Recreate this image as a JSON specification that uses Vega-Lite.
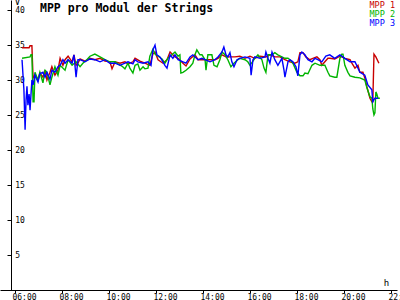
{
  "$schema": "https://vega.github.io/schema/vega-lite/v6.json",
  "width": 397,
  "height": 290,
  "autosize": {"type": "none"},
  "padding": {"left": 0, "top": 0, "right": 3, "bottom": 10},
  "background": "white",
  "config": {"view": {"stroke": null}, "font": "DejaVu Sans Mono"},
  "title": {"text": "MPP pro Modul der Strings", "frame": "group", "anchor": "start", "orient": "top", "offset": -25.5, "baseline": "alphabetic", "dx": 40, "font": "DejaVu Sans Mono", "fontSize": 11.5, "fontWeight": "bold", "color": "black"},
  "datasets": {
    "mpp": [
      {"s":"MPP 1","t":6.30,"v":34.6},{"s":"MPP 1","t":6.60,"v":34.6},{"s":"MPP 1","t":6.64,"v":34.9},{"s":"MPP 1","t":6.72,"v":34.9},{"s":"MPP 1","t":6.77,"v":30.3},{"s":"MPP 1","t":6.85,"v":30.7},{"s":"MPP 1","t":6.98,"v":30.0},{"s":"MPP 1","t":7.06,"v":31.0},{"s":"MPP 1","t":7.19,"v":30.4},{"s":"MPP 1","t":7.28,"v":31.4},{"s":"MPP 1","t":7.36,"v":30.0},{"s":"MPP 1","t":7.49,"v":31.1},{"s":"MPP 1","t":7.57,"v":31.9},{"s":"MPP 1","t":7.70,"v":30.7},{"s":"MPP 1","t":7.83,"v":31.4},{"s":"MPP 1","t":7.92,"v":33.1},{"s":"MPP 1","t":8.04,"v":32.1},{"s":"MPP 1","t":8.13,"v":32.9},{"s":"MPP 1","t":8.26,"v":33.4},{"s":"MPP 1","t":8.43,"v":32.6},{"s":"MPP 1","t":8.51,"v":33.6},{"s":"MPP 1","t":8.60,"v":32.1},{"s":"MPP 1","t":8.68,"v":32.4},{"s":"MPP 1","t":8.77,"v":33.0},{"s":"MPP 1","t":8.98,"v":32.7},{"s":"MPP 1","t":9.19,"v":33.1},{"s":"MPP 1","t":9.40,"v":32.9},{"s":"MPP 1","t":9.62,"v":33.1},{"s":"MPP 1","t":9.83,"v":32.7},{"s":"MPP 1","t":10.04,"v":32.6},{"s":"MPP 1","t":10.13,"v":31.6},{"s":"MPP 1","t":10.26,"v":32.6},{"s":"MPP 1","t":10.47,"v":32.4},{"s":"MPP 1","t":10.68,"v":32.6},{"s":"MPP 1","t":10.81,"v":32.3},{"s":"MPP 1","t":11.02,"v":32.6},{"s":"MPP 1","t":11.11,"v":33.1},{"s":"MPP 1","t":11.32,"v":32.7},{"s":"MPP 1","t":11.53,"v":32.4},{"s":"MPP 1","t":11.74,"v":32.1},{"s":"MPP 1","t":11.87,"v":33.7},{"s":"MPP 1","t":11.96,"v":34.0},{"s":"MPP 1","t":12.09,"v":32.9},{"s":"MPP 1","t":12.30,"v":32.4},{"s":"MPP 1","t":12.47,"v":32.9},{"s":"MPP 1","t":12.60,"v":34.0},{"s":"MPP 1","t":12.81,"v":33.3},{"s":"MPP 1","t":12.94,"v":33.1},{"s":"MPP 1","t":13.15,"v":32.4},{"s":"MPP 1","t":13.28,"v":32.0},{"s":"MPP 1","t":13.45,"v":33.0},{"s":"MPP 1","t":13.66,"v":33.6},{"s":"MPP 1","t":13.79,"v":32.9},{"s":"MPP 1","t":13.96,"v":32.9},{"s":"MPP 1","t":14.21,"v":32.9},{"s":"MPP 1","t":14.51,"v":32.9},{"s":"MPP 1","t":14.64,"v":33.1},{"s":"MPP 1","t":14.81,"v":33.6},{"s":"MPP 1","t":14.98,"v":33.3},{"s":"MPP 1","t":15.15,"v":33.3},{"s":"MPP 1","t":15.36,"v":33.3},{"s":"MPP 1","t":15.57,"v":33.4},{"s":"MPP 1","t":15.79,"v":33.1},{"s":"MPP 1","t":16.00,"v":33.4},{"s":"MPP 1","t":16.21,"v":33.1},{"s":"MPP 1","t":16.43,"v":33.4},{"s":"MPP 1","t":16.68,"v":33.3},{"s":"MPP 1","t":16.85,"v":33.6},{"s":"MPP 1","t":17.06,"v":33.3},{"s":"MPP 1","t":17.28,"v":33.3},{"s":"MPP 1","t":17.49,"v":32.9},{"s":"MPP 1","t":17.70,"v":32.6},{"s":"MPP 1","t":17.91,"v":32.4},{"s":"MPP 1","t":18.04,"v":32.6},{"s":"MPP 1","t":18.13,"v":33.9},{"s":"MPP 1","t":18.26,"v":33.9},{"s":"MPP 1","t":18.38,"v":33.3},{"s":"MPP 1","t":18.55,"v":32.9},{"s":"MPP 1","t":18.68,"v":33.1},{"s":"MPP 1","t":18.85,"v":33.3},{"s":"MPP 1","t":18.98,"v":32.9},{"s":"MPP 1","t":19.06,"v":32.1},{"s":"MPP 1","t":19.19,"v":32.6},{"s":"MPP 1","t":19.32,"v":33.1},{"s":"MPP 1","t":19.40,"v":33.1},{"s":"MPP 1","t":19.61,"v":33.0},{"s":"MPP 1","t":19.83,"v":33.4},{"s":"MPP 1","t":20.04,"v":33.1},{"s":"MPP 1","t":20.26,"v":32.9},{"s":"MPP 1","t":20.34,"v":32.4},{"s":"MPP 1","t":20.47,"v":31.7},{"s":"MPP 1","t":20.60,"v":32.1},{"s":"MPP 1","t":20.68,"v":31.1},{"s":"MPP 1","t":20.81,"v":31.1},{"s":"MPP 1","t":20.89,"v":30.3},{"s":"MPP 1","t":20.98,"v":29.0},{"s":"MPP 1","t":21.11,"v":27.4},{"s":"MPP 1","t":21.19,"v":26.9},{"s":"MPP 1","t":21.23,"v":26.9},{"s":"MPP 1","t":21.28,"v":33.7},{"s":"MPP 1","t":21.36,"v":33.3},{"s":"MPP 1","t":21.49,"v":32.4},

      {"s":"MPP 2","t":6.30,"v":33.1},{"s":"MPP 2","t":6.64,"v":33.3},{"s":"MPP 2","t":6.68,"v":33.6},{"s":"MPP 2","t":6.72,"v":33.6},{"s":"MPP 2","t":6.77,"v":26.9},{"s":"MPP 2","t":6.81,"v":26.9},{"s":"MPP 2","t":6.85,"v":31.1},{"s":"MPP 2","t":6.98,"v":30.0},{"s":"MPP 2","t":7.06,"v":31.1},{"s":"MPP 2","t":7.19,"v":29.6},{"s":"MPP 2","t":7.28,"v":31.4},{"s":"MPP 2","t":7.36,"v":31.1},{"s":"MPP 2","t":7.49,"v":29.3},{"s":"MPP 2","t":7.57,"v":30.4},{"s":"MPP 2","t":7.70,"v":31.9},{"s":"MPP 2","t":7.83,"v":30.7},{"s":"MPP 2","t":7.92,"v":32.1},{"s":"MPP 2","t":8.13,"v":31.4},{"s":"MPP 2","t":8.26,"v":32.9},{"s":"MPP 2","t":8.43,"v":32.1},{"s":"MPP 2","t":8.60,"v":32.6},{"s":"MPP 2","t":8.77,"v":31.9},{"s":"MPP 2","t":8.89,"v":32.4},{"s":"MPP 2","t":9.06,"v":32.9},{"s":"MPP 2","t":9.19,"v":33.4},{"s":"MPP 2","t":9.40,"v":33.7},{"s":"MPP 2","t":9.62,"v":33.3},{"s":"MPP 2","t":9.83,"v":32.9},{"s":"MPP 2","t":10.04,"v":32.6},{"s":"MPP 2","t":10.26,"v":32.6},{"s":"MPP 2","t":10.38,"v":32.3},{"s":"MPP 2","t":10.55,"v":32.0},{"s":"MPP 2","t":10.68,"v":31.6},{"s":"MPP 2","t":10.81,"v":32.4},{"s":"MPP 2","t":10.89,"v":31.7},{"s":"MPP 2","t":11.02,"v":31.0},{"s":"MPP 2","t":11.11,"v":32.1},{"s":"MPP 2","t":11.23,"v":32.3},{"s":"MPP 2","t":11.32,"v":31.4},{"s":"MPP 2","t":11.45,"v":31.9},{"s":"MPP 2","t":11.53,"v":31.6},{"s":"MPP 2","t":11.66,"v":31.7},{"s":"MPP 2","t":11.74,"v":33.4},{"s":"MPP 2","t":11.87,"v":34.4},{"s":"MPP 2","t":11.96,"v":33.7},{"s":"MPP 2","t":12.09,"v":33.4},{"s":"MPP 2","t":12.26,"v":33.0},{"s":"MPP 2","t":12.38,"v":32.4},{"s":"MPP 2","t":12.51,"v":33.1},{"s":"MPP 2","t":12.68,"v":33.6},{"s":"MPP 2","t":12.81,"v":34.0},{"s":"MPP 2","t":12.94,"v":33.4},{"s":"MPP 2","t":13.02,"v":33.6},{"s":"MPP 2","t":13.06,"v":31.0},{"s":"MPP 2","t":13.15,"v":31.1},{"s":"MPP 2","t":13.28,"v":31.4},{"s":"MPP 2","t":13.45,"v":31.9},{"s":"MPP 2","t":13.57,"v":32.4},{"s":"MPP 2","t":13.66,"v":33.6},{"s":"MPP 2","t":13.74,"v":34.3},{"s":"MPP 2","t":13.87,"v":33.6},{"s":"MPP 2","t":13.96,"v":33.6},{"s":"MPP 2","t":14.09,"v":32.9},{"s":"MPP 2","t":14.13,"v":31.4},{"s":"MPP 2","t":14.21,"v":33.6},{"s":"MPP 2","t":14.38,"v":33.6},{"s":"MPP 2","t":14.47,"v":32.1},{"s":"MPP 2","t":14.60,"v":31.9},{"s":"MPP 2","t":14.72,"v":32.9},{"s":"MPP 2","t":14.81,"v":34.0},{"s":"MPP 2","t":14.94,"v":33.6},{"s":"MPP 2","t":15.06,"v":32.9},{"s":"MPP 2","t":15.19,"v":31.9},{"s":"MPP 2","t":15.32,"v":32.4},{"s":"MPP 2","t":15.49,"v":32.9},{"s":"MPP 2","t":15.57,"v":33.1},{"s":"MPP 2","t":15.79,"v":32.9},{"s":"MPP 2","t":15.91,"v":32.6},{"s":"MPP 2","t":16.00,"v":32.1},{"s":"MPP 2","t":16.21,"v":33.1},{"s":"MPP 2","t":16.34,"v":33.6},{"s":"MPP 2","t":16.51,"v":32.9},{"s":"MPP 2","t":16.60,"v":31.7},{"s":"MPP 2","t":16.68,"v":31.1},{"s":"MPP 2","t":16.77,"v":33.6},{"s":"MPP 2","t":16.94,"v":33.6},{"s":"MPP 2","t":17.06,"v":33.9},{"s":"MPP 2","t":17.19,"v":33.6},{"s":"MPP 2","t":17.36,"v":33.3},{"s":"MPP 2","t":17.49,"v":33.1},{"s":"MPP 2","t":17.62,"v":33.1},{"s":"MPP 2","t":17.70,"v":32.9},{"s":"MPP 2","t":17.83,"v":32.4},{"s":"MPP 2","t":18.00,"v":31.1},{"s":"MPP 2","t":18.13,"v":30.6},{"s":"MPP 2","t":18.26,"v":30.6},{"s":"MPP 2","t":18.34,"v":31.0},{"s":"MPP 2","t":18.47,"v":30.9},{"s":"MPP 2","t":18.64,"v":32.1},{"s":"MPP 2","t":18.77,"v":32.4},{"s":"MPP 2","t":18.98,"v":32.1},{"s":"MPP 2","t":19.19,"v":32.1},{"s":"MPP 2","t":19.32,"v":31.1},{"s":"MPP 2","t":19.40,"v":30.6},{"s":"MPP 2","t":19.61,"v":30.4},{"s":"MPP 2","t":19.70,"v":30.4},{"s":"MPP 2","t":19.83,"v":33.1},{"s":"MPP 2","t":19.91,"v":33.7},{"s":"MPP 2","t":19.96,"v":33.7},{"s":"MPP 2","t":20.04,"v":32.1},{"s":"MPP 2","t":20.17,"v":31.1},{"s":"MPP 2","t":20.26,"v":30.6},{"s":"MPP 2","t":20.47,"v":30.4},{"s":"MPP 2","t":20.68,"v":30.3},{"s":"MPP 2","t":20.89,"v":30.0},{"s":"MPP 2","t":20.98,"v":28.9},{"s":"MPP 2","t":21.11,"v":27.6},{"s":"MPP 2","t":21.19,"v":27.4},{"s":"MPP 2","t":21.23,"v":25.9},{"s":"MPP 2","t":21.28,"v":25.0},{"s":"MPP 2","t":21.32,"v":25.3},{"s":"MPP 2","t":21.36,"v":28.3},{"s":"MPP 2","t":21.40,"v":28.0},{"s":"MPP 2","t":21.45,"v":27.4},{"s":"MPP 2","t":21.53,"v":27.4},

      {"s":"MPP 3","t":6.30,"v":32.9},{"s":"MPP 3","t":6.38,"v":28.6},{"s":"MPP 3","t":6.43,"v":22.9},{"s":"MPP 3","t":6.47,"v":27.1},{"s":"MPP 3","t":6.51,"v":29.1},{"s":"MPP 3","t":6.55,"v":26.4},{"s":"MPP 3","t":6.60,"v":28.0},{"s":"MPP 3","t":6.64,"v":25.7},{"s":"MPP 3","t":6.68,"v":27.9},{"s":"MPP 3","t":6.72,"v":30.0},{"s":"MPP 3","t":6.77,"v":29.3},{"s":"MPP 3","t":6.85,"v":30.7},{"s":"MPP 3","t":6.98,"v":29.7},{"s":"MPP 3","t":7.06,"v":30.9},{"s":"MPP 3","t":7.19,"v":31.1},{"s":"MPP 3","t":7.28,"v":30.4},{"s":"MPP 3","t":7.36,"v":31.1},{"s":"MPP 3","t":7.49,"v":30.1},{"s":"MPP 3","t":7.57,"v":31.4},{"s":"MPP 3","t":7.70,"v":31.1},{"s":"MPP 3","t":7.83,"v":31.9},{"s":"MPP 3","t":7.92,"v":32.1},{"s":"MPP 3","t":8.04,"v":32.9},{"s":"MPP 3","t":8.13,"v":32.4},{"s":"MPP 3","t":8.26,"v":32.9},{"s":"MPP 3","t":8.43,"v":32.4},{"s":"MPP 3","t":8.51,"v":33.6},{"s":"MPP 3","t":8.60,"v":30.4},{"s":"MPP 3","t":8.68,"v":32.9},{"s":"MPP 3","t":8.77,"v":32.9},{"s":"MPP 3","t":8.98,"v":32.6},{"s":"MPP 3","t":9.19,"v":33.0},{"s":"MPP 3","t":9.40,"v":32.9},{"s":"MPP 3","t":9.62,"v":32.6},{"s":"MPP 3","t":9.83,"v":32.9},{"s":"MPP 3","t":10.04,"v":32.4},{"s":"MPP 3","t":10.26,"v":32.4},{"s":"MPP 3","t":10.47,"v":32.1},{"s":"MPP 3","t":10.68,"v":32.4},{"s":"MPP 3","t":10.81,"v":32.6},{"s":"MPP 3","t":11.02,"v":32.3},{"s":"MPP 3","t":11.11,"v":32.9},{"s":"MPP 3","t":11.23,"v":32.6},{"s":"MPP 3","t":11.45,"v":32.4},{"s":"MPP 3","t":11.66,"v":32.6},{"s":"MPP 3","t":11.79,"v":32.1},{"s":"MPP 3","t":11.87,"v":34.3},{"s":"MPP 3","t":11.96,"v":35.0},{"s":"MPP 3","t":12.04,"v":33.6},{"s":"MPP 3","t":12.17,"v":33.3},{"s":"MPP 3","t":12.30,"v":32.6},{"s":"MPP 3","t":12.38,"v":32.1},{"s":"MPP 3","t":12.47,"v":31.7},{"s":"MPP 3","t":12.60,"v":33.6},{"s":"MPP 3","t":12.72,"v":33.1},{"s":"MPP 3","t":12.81,"v":33.6},{"s":"MPP 3","t":12.94,"v":32.9},{"s":"MPP 3","t":13.15,"v":32.6},{"s":"MPP 3","t":13.28,"v":32.4},{"s":"MPP 3","t":13.45,"v":33.3},{"s":"MPP 3","t":13.57,"v":33.6},{"s":"MPP 3","t":13.79,"v":32.9},{"s":"MPP 3","t":13.96,"v":33.1},{"s":"MPP 3","t":14.09,"v":32.9},{"s":"MPP 3","t":14.30,"v":32.6},{"s":"MPP 3","t":14.51,"v":32.9},{"s":"MPP 3","t":14.64,"v":33.3},{"s":"MPP 3","t":14.81,"v":34.0},{"s":"MPP 3","t":14.89,"v":34.7},{"s":"MPP 3","t":14.98,"v":33.6},{"s":"MPP 3","t":15.06,"v":33.3},{"s":"MPP 3","t":15.15,"v":33.9},{"s":"MPP 3","t":15.23,"v":32.6},{"s":"MPP 3","t":15.32,"v":31.9},{"s":"MPP 3","t":15.45,"v":32.9},{"s":"MPP 3","t":15.57,"v":33.1},{"s":"MPP 3","t":15.79,"v":33.3},{"s":"MPP 3","t":16.00,"v":33.1},{"s":"MPP 3","t":16.05,"v":30.7},{"s":"MPP 3","t":16.13,"v":32.9},{"s":"MPP 3","t":16.21,"v":33.3},{"s":"MPP 3","t":16.43,"v":33.1},{"s":"MPP 3","t":16.64,"v":33.3},{"s":"MPP 3","t":16.68,"v":34.0},{"s":"MPP 3","t":16.77,"v":33.1},{"s":"MPP 3","t":16.85,"v":32.4},{"s":"MPP 3","t":16.94,"v":34.0},{"s":"MPP 3","t":17.06,"v":32.9},{"s":"MPP 3","t":17.19,"v":32.1},{"s":"MPP 3","t":17.36,"v":33.1},{"s":"MPP 3","t":17.45,"v":31.4},{"s":"MPP 3","t":17.49,"v":30.4},{"s":"MPP 3","t":17.62,"v":32.6},{"s":"MPP 3","t":17.70,"v":32.9},{"s":"MPP 3","t":17.83,"v":32.6},{"s":"MPP 3","t":17.96,"v":31.9},{"s":"MPP 3","t":18.04,"v":30.6},{"s":"MPP 3","t":18.13,"v":33.6},{"s":"MPP 3","t":18.21,"v":34.0},{"s":"MPP 3","t":18.34,"v":33.6},{"s":"MPP 3","t":18.47,"v":32.9},{"s":"MPP 3","t":18.64,"v":32.6},{"s":"MPP 3","t":18.77,"v":33.1},{"s":"MPP 3","t":18.89,"v":32.9},{"s":"MPP 3","t":19.06,"v":32.6},{"s":"MPP 3","t":19.23,"v":33.4},{"s":"MPP 3","t":19.40,"v":33.6},{"s":"MPP 3","t":19.61,"v":33.1},{"s":"MPP 3","t":19.83,"v":33.6},{"s":"MPP 3","t":20.04,"v":33.1},{"s":"MPP 3","t":20.26,"v":32.6},{"s":"MPP 3","t":20.47,"v":32.6},{"s":"MPP 3","t":20.68,"v":31.1},{"s":"MPP 3","t":20.89,"v":30.7},{"s":"MPP 3","t":21.02,"v":29.3},{"s":"MPP 3","t":21.19,"v":28.6},{"s":"MPP 3","t":21.23,"v":26.9},{"s":"MPP 3","t":21.32,"v":27.4},{"s":"MPP 3","t":21.45,"v":27.4}
    ]
  },
  "layer": [
    {
      "data": {"name": "mpp"},
      "mark": {"type": "line", "strokeWidth": 1.4, "clip": false},
      "encoding": {
        "x": {"field": "t", "type": "quantitative",
              "scale": {"domain": [5.362, 22.26], "zero": false, "nice": false},
              "axis": {"values": [6,8,10,12,14,16,18,20,22], "labelExpr": "(datum.value < 10 ? '0' : '') + datum.value + ':00'",
                       "grid": false, "domainColor": "black", "domainWidth": 1, "tickColor": "black", "tickSize": 3, "tickWidth": 1,
                       "labelAlign": "left", "labelOffset": -3, "labelBaseline": "top", "labelPadding": 0, "labelFont": "DejaVu Sans Mono", "labelFontSize": 8, "labelColor": "black",
                       "labelBound": false, "labelFlush": false, "labelOverlap": false,
                       "title": "h", "titleX": 386, "titleY": -5, "titleAlign": "center", "titleBaseline": "alphabetic", "titleFont": "DejaVu Sans Mono", "titleFontSize": 9, "titleFontWeight": "normal", "titleColor": "black"}},
        "y": {"field": "v", "type": "quantitative",
              "scale": {"domain": [0, 41.43], "zero": false, "nice": false},
              "axis": {"values": [5,10,15,20,25,30,35,40], "offset": -11, "grid": false, "domainColor": "black", "domainWidth": 1, "tickColor": "black", "tickSize": 4, "tickWidth": 1,
                       "labelAlign": "left", "labelPadding": -7.7, "labelBaseline": "middle", "labelFont": "DejaVu Sans Mono", "labelFontSize": 8, "labelColor": "black", "labelBound": false, "labelFlush": false, "labelOverlap": false,
                       "title": "V", "titleX": 6, "titleY": 4.5, "titleAngle": 0, "titleAlign": "center", "titleBaseline": "alphabetic", "titleFont": "DejaVu Sans Mono", "titleFontSize": 9, "titleFontWeight": "normal", "titleColor": "black"}},
        "color": {"field": "s", "type": "nominal",
                  "scale": {"domain": ["MPP 1", "MPP 2", "MPP 3"], "range": ["#c80000", "#00b400", "#0000ff"]},
                  "legend": {"orient": "none", "legendX": 361, "legendY": 0.5, "title": null, "padding": 0, "symbolSize": 0, "symbolStrokeWidth": 0, "symbolOpacity": 0, "labelOffset": 0, "rowPadding": -2.5,
                             "labelFont": "DejaVu Sans Mono", "labelFontSize": 8.5,
                             "encode": {"labels": {"update": {"fill": {"scale": "color", "field": "value"}}}}}}
      }
    },
    {
      "mark": {"type": "point", "shape": "M-1,0.7L0,0L1,0.7", "filled": false, "stroke": "black", "strokeWidth": 1, "size": 36, "clip": false},
      "encoding": {"x": {"datum": 5.83}, "y": {"datum": 41.3}}
    },
    {
      "mark": {"type": "point", "shape": "M-0.7,-1L0,0L-0.7,1", "filled": false, "stroke": "black", "strokeWidth": 1, "size": 36, "clip": false},
      "encoding": {"x": {"datum": 22.25}, "y": {"datum": 0}}
    }
  ]
}
